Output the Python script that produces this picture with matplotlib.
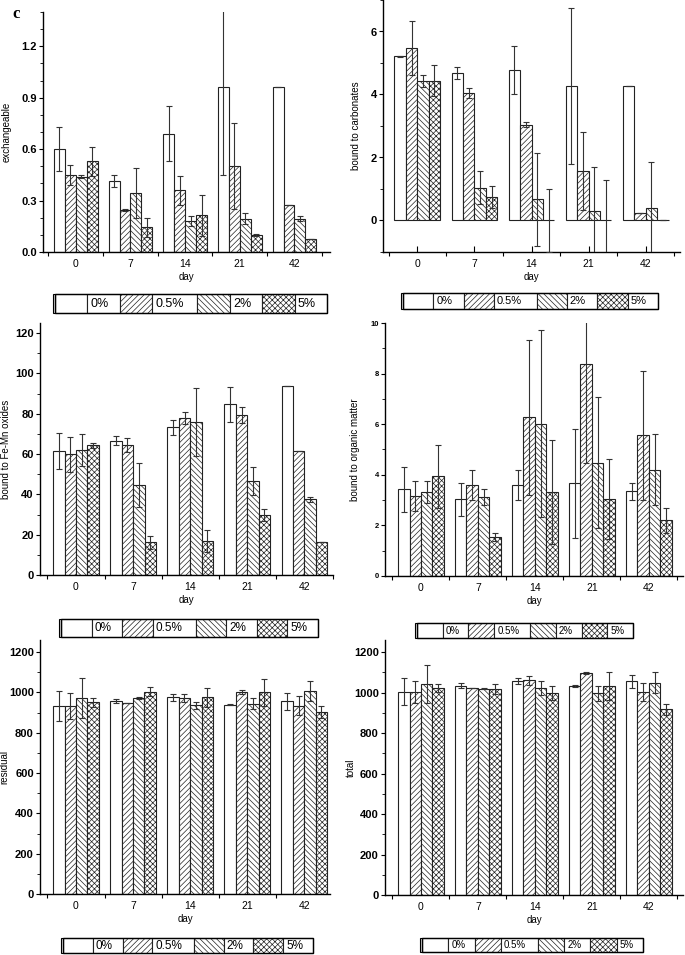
import numpy as np
import matplotlib.pyplot as plt
import matplotlib.patches as mpatches
from matplotlib.ticker import MultipleLocator, FixedLocator

plt.rcParams['font.family'] = ['Liberation Sans', 'DejaVu Sans']
plt.rcParams['hatch.linewidth'] = 0.5

days = ['0', '7', '14', '21', '42']
doses = ['0%', '0.5%', '2%', '5%']
hatches = ['', '//////', '\\\\\\\\\\\\', 'xxxxxx']

# rows = dose (0%, 0.5%, 2%, 5%), columns = day
exch_mean = [[0.60, 0.415, 0.69, 0.96, 0.96],
             [0.45, 0.245, 0.36, 0.50, 0.275],
             [0.44, 0.345, 0.18, 0.195, 0.195],
             [0.53, 0.145, 0.215, 0.10, 0.075]]
exch_err = [[0.13, 0.035, 0.16, 0.51, 0],
            [0.06, 0.003, 0.085, 0.25, 0],
            [0.01, 0.145, 0.03, 0.03, 0.015],
            [0.085, 0.055, 0.12, 0.005, 0]]

carb_mean = [[5.21, 4.68, 4.77, 4.26, 4.28],
             [5.48, 4.05, 3.04, 1.57, 0.25],
             [4.42, 1.04, 0.67, 0.31, 0.40],
             [4.44, 0.74, 0.0, 0.0, 0.0]]
carb_err = [[0.02, 0.18, 0.77, 2.48, 0],
            [0.85, 0.17, 0.08, 1.25, 0],
            [0.19, 0.53, 1.48, 1.38, 1.45],
            [0.50, 0.34, 1.00, 1.27, 0]]

femn_mean = [[61.6, 66.6, 73.3, 84.8, 93.7],
             [60.0, 64.5, 78.0, 79.5, 61.6],
             [62.0, 44.7, 76.0, 46.7, 37.5],
             [64.3, 16.2, 16.7, 29.8, 16.2]]
femn_err = [[9.0, 2.2, 3.8, 8.7, 0],
            [8.7, 3.6, 2.9, 4.0, 0],
            [7.8, 11.0, 17.0, 7.0, 1.3],
            [1.3, 3.3, 5.5, 3.0, 0]]

org_mean = [[3.42, 3.04, 3.60, 3.67, 3.34],
            [3.15, 3.60, 6.27, 8.37, 5.57],
            [3.32, 3.12, 6.02, 4.48, 4.20],
            [3.94, 1.54, 3.32, 3.05, 2.20]]
org_err = [[0.90, 0.65, 0.60, 2.15, 0.33],
           [0.60, 0.60, 3.05, 3.90, 2.55],
           [0.42, 0.32, 3.70, 2.60, 1.40],
           [1.25, 0.15, 2.05, 1.58, 0.50]]

res_mean = [[933, 957, 975, 940, 955],
            [932, 948, 973, 1003, 935],
            [973, 970, 937, 945, 1008],
            [950, 1003, 975, 1000, 903]]
res_err = [[74, 10, 18, 1, 42],
           [63, 1, 20, 10, 47],
           [99, 5, 17, 28, 50],
           [20, 23, 45, 65, 28]]

tot_mean = [[1005, 1035, 1058, 1035, 1057],
            [1002, 1023, 1060, 1095, 1005],
            [1043, 1020, 1022, 998, 1050],
            [1025, 1020, 997, 1032, 918]]
tot_err = [[65, 13, 14, 5, 32],
           [53, 1, 20, 5, 45],
           [92, 3, 35, 37, 50],
           [20, 25, 35, 70, 28]]

W, H = 685, 955


def px_axes(fig, left, right, top, bottom):
    return fig.add_axes([left / W, 1 - bottom / H, (right - left) / W, (bottom - top) / H])


def cell_legend(fig, left, right, top, bottom, fs):
    # legend drawn as a row of boxed cells: [patch | label] x 4
    label_w = [1.0 if len(d) < 4 else 1.4 for d in doses]
    unit = (right - left) / (len(doses) + sum(label_w))
    y0 = 1 - bottom / H
    hh = (bottom - top) / H
    xpos = left
    for i, d in enumerate(doses):
        fig.add_artist(mpatches.Rectangle((xpos / W, y0), unit / W, hh, transform=fig.transFigure,
                                          facecolor='white', edgecolor='#222222',
                                          hatch=hatches[i], linewidth=0.8))
        xpos += unit
        lw = unit * label_w[i]
        fig.add_artist(mpatches.Rectangle((xpos / W, y0), lw / W, hh, transform=fig.transFigure,
                                          facecolor='white', edgecolor='#222222', linewidth=0.8))
        fig.text((xpos + 3) / W, y0 + hh / 2, d, fontsize=fs, ha='left', va='center')
        xpos += lw
    fig.add_artist(mpatches.Rectangle((left / W, y0), (right - left) / W, hh,
                                      transform=fig.transFigure, facecolor='none',
                                      edgecolor='black', linewidth=1.0))
    fig.add_artist(mpatches.Rectangle(((left - 2) / W, y0), 2 / W, hh,
                                      transform=fig.transFigure, facecolor='none',
                                      edgecolor='black', linewidth=0.8))


def draw_panel(ax, box, means, errs, ylabel, ylab_x, ylim, ystep, yminor, xlim,
               ytick_size=8):
    left, right = box
    x = np.arange(len(days))
    width = 0.2
    for i, d in enumerate(doses):
        pos = x + (i - 1.5) * width
        ax.bar(pos, means[i], width, color='white', edgecolor='#222222',
               hatch=hatches[i], linewidth=0.8, zorder=2)
        ax.errorbar(pos, means[i], yerr=errs[i], fmt='none', ecolor='#333333',
                    elinewidth=0.8, capsize=2.5, capthick=0.8, zorder=3)
    ax.set_xlim(*xlim)
    ax.set_ylim(*ylim)
    ax.spines['top'].set_visible(False)
    ax.spines['right'].set_visible(False)
    ax.spines['left'].set_linewidth(1.0)
    ax.spines['bottom'].set_linewidth(1.0)
    ax.set_xticks(x)
    ax.set_xticklabels(days, fontsize=7.5)
    ax.xaxis.set_minor_locator(FixedLocator(np.arange(-0.5, len(days), 1.0)))
    ax.tick_params(axis='x', which='major', direction='in', length=4, width=0.8, pad=5)
    ax.tick_params(axis='x', which='minor', direction='out', length=3, width=0.8)
    ax.yaxis.set_major_locator(MultipleLocator(ystep))
    ax.yaxis.set_minor_locator(MultipleLocator(yminor))
    ax.tick_params(axis='y', which='major', direction='out', length=3, width=0.8, pad=1.5)
    ax.tick_params(axis='y', which='minor', direction='out', length=2, width=0.6)
    for lab in ax.get_yticklabels():
        lab.set_fontweight('bold')
        lab.set_fontsize(ytick_size)
    ax.set_xlabel('day', fontsize=7, labelpad=2)
    ax.set_ylabel(ylabel, fontsize=7)
    ax.yaxis.set_label_coords((ylab_x + 4 - left) / (right - left), 0.5)


fig = plt.figure(figsize=(W / 100, H / 100), dpi=100)

ax1 = px_axes(fig, 43, 330, 12, 252)
draw_panel(ax1, (43, 330), exch_mean, exch_err, 'exchangeable', 8, (0, 1.4), 0.3, 0.1,
           (-0.6, 4.65))
cell_legend(fig, 55, 327, 294, 313, 9)

ax2 = px_axes(fig, 383, 680, 0, 252)
draw_panel(ax2, (383, 680), carb_mean, carb_err, 'bound to carbonates', 357, (-1, 7), 2, 1,
           (-0.6, 4.6))
cell_legend(fig, 403, 658, 293, 309, 8)

ax3 = px_axes(fig, 40, 333, 323, 575)
draw_panel(ax3, (40, 333), femn_mean, femn_err, 'bound to Fe-Mn oxides', 7, (0, 125), 20, 10,
           (-0.63, 4.5))
cell_legend(fig, 61, 318, 619, 637, 8.5)

ax4 = px_axes(fig, 385, 683, 323, 576)
draw_panel(ax4, (385, 683), org_mean, org_err, 'bound to organic matter', 356, (0, 10), 2, 1,
           (-0.63, 4.6), ytick_size=5.5)
cell_legend(fig, 417, 633, 623, 638, 7)

ax5 = px_axes(fig, 40, 330, 640, 894)
draw_panel(ax5, (40, 330), res_mean, res_err, 'residual', 5, (0, 1260), 200, 100,
           (-0.63, 4.45))
cell_legend(fig, 63, 313, 938, 953, 8.5)

ax6 = px_axes(fig, 385, 683, 640, 895)
draw_panel(ax6, (385, 683), tot_mean, tot_err, 'total', 352, (0, 1260), 200, 100,
           (-0.63, 4.6))
cell_legend(fig, 422, 643, 938, 952, 7)

fig.text(12 / W, 1 - 18 / H, 'c', fontsize=12, fontweight='bold', family='Liberation Serif')

fig.savefig('out.png', dpi=100)
